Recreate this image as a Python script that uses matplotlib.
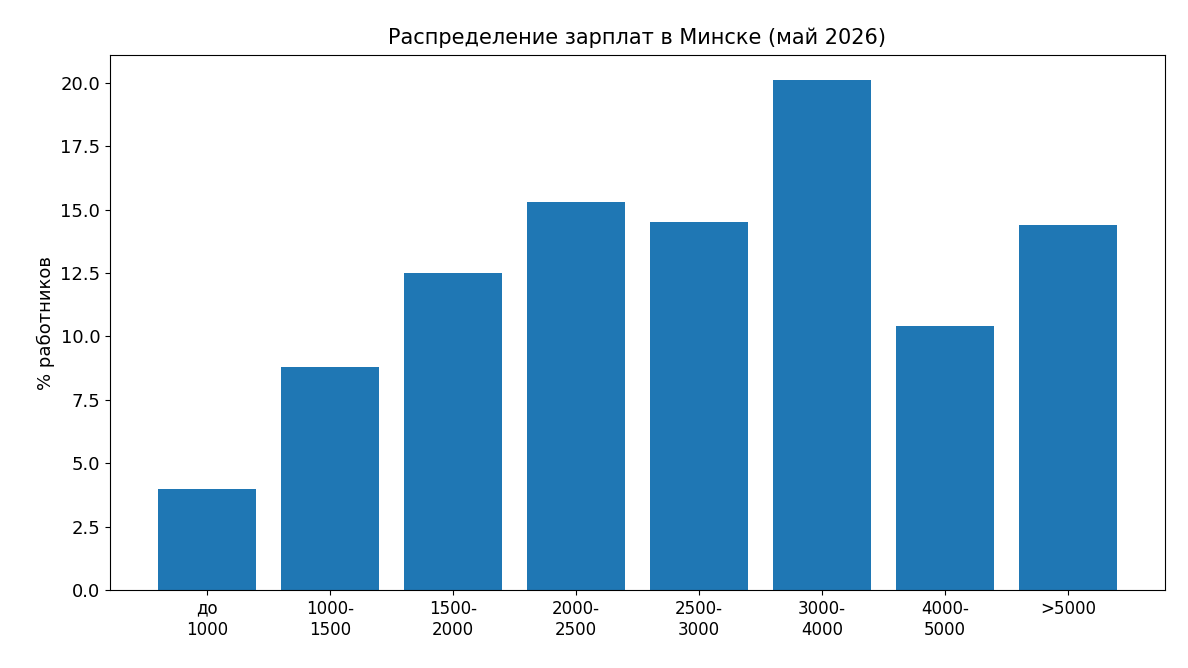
import matplotlib
matplotlib.use("Agg")
import matplotlib.pyplot as plt

categories = ["до\n1000", "1000-\n1500", "1500-\n2000", "2000-\n2500", "2500-\n3000", "3000-\n4000", "4000-\n5000", ">5000"]
values = [4.0, 8.8, 12.5, 15.3, 14.5, 20.1, 10.4, 14.4]

fig = plt.figure(figsize=(11.88, 6.68), dpi=100)
ax = fig.add_axes([110/1188, 1-590/668, (1165-110)/1188, (590-55)/668])
ax.bar(categories, values, color="#1f77b4", width=0.8)
ax.set_ylim(0, 21.1)
ax.set_yticks([0, 2.5, 5, 7.5, 10, 12.5, 15, 17.5, 20])
ax.set_yticklabels([f"{v:.1f}" for v in [0, 2.5, 5, 7.5, 10, 12.5, 15, 17.5, 20]])
ax.tick_params(axis="y", labelsize=13)
ax.tick_params(axis="x", labelsize=12)
ax.set_ylabel("% работников", fontsize=13)
ax.set_title("Распределение зарплат в Минске (май 2026)", fontsize=15, pad=8)
fig.savefig("out.png", dpi=100)
